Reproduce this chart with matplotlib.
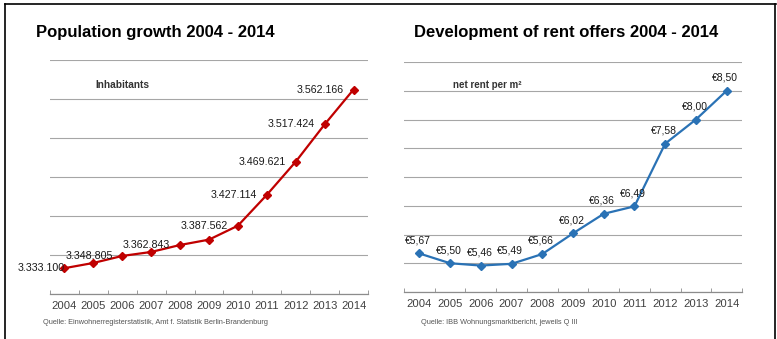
import matplotlib
matplotlib.use('Agg')
import matplotlib.pyplot as plt
from matplotlib.lines import Line2D
from matplotlib.ticker import MultipleLocator, FixedLocator

plt.rcParams['font.family'] = ['Liberation Sans', 'DejaVu Sans']

# Daten
years = ['2004', '2005', '2006', '2007', '2008', '2009',
         '2010', '2011', '2012', '2013', '2014']
population = [3333100, 3339800, 3348805, 3353900, 3362843, 3369700,
              3387562, 3427114, 3469621, 3517424, 3562166]
pop_labels = ['3.333.100', None, '3.348.805', None, '3.362.843', None,
              '3.387.562', '3.427.114', '3.469.621', '3.517.424', '3.562.166']
rent = [5.67, 5.50, 5.46, 5.49, 5.66, 6.02, 6.36, 6.49, 7.58, 8.00, 8.50]
rent_labels = ['€5,67', '€5,50', '€5,46', '€5,49', '€5,66', '€6,02',
               '€6,36', '€6,49', '€7,58', '€8,00', '€8,50']

W, H = 777, 339
fig = plt.figure(figsize=(W / 100, H / 100), dpi=100)


def px_axes(x0, y0, x1, y1):
    # Achsen in Pixelkoordinaten (oben links = 0,0)
    return fig.add_axes([x0 / W, 1 - y1 / H, (x1 - x0) / W, (y1 - y0) / H])


def style_axes(ax):
    for s in ['top', 'left', 'right']:
        ax.spines[s].set_visible(False)
    ax.spines['bottom'].set_color('#8c8c8c')
    ax.spines['bottom'].set_linewidth(0.9)
    ax.set_xlim(-0.5, len(years) - 0.5)
    ax.set_xticks(range(len(years)))
    ax.set_xticklabels(years)
    ax.xaxis.set_minor_locator(FixedLocator([i - 0.5 for i in range(len(years) + 1)]))
    ax.tick_params(axis='x', which='major', length=0, pad=5, labelsize=8.1,
                   labelcolor='#404040')
    ax.tick_params(axis='x', which='minor', length=3, direction='in',
                   color='#8c8c8c')
    ax.tick_params(axis='y', length=0, labelleft=False)
    ax.grid(axis='y', color='#a6a6a6', linewidth=0.8)
    ax.set_axisbelow(True)


x = list(range(len(years)))

# Bevölkerung
ax1 = px_axes(50, 60, 368, 294)
style_axes(ax1)
ax1.set_ylim(3300000, 3600000)
ax1.yaxis.set_major_locator(MultipleLocator(50000))
ax1.plot(x, population, color='#c00000', linewidth=1.6, marker='D',
         markersize=3.8, clip_on=False)
for i, lab in enumerate(pop_labels):
    if lab is None:
        continue
    dx = 0 if i == 0 else -7
    ax1.annotate(lab, (i, population[i]), xytext=(dx, 0), textcoords='offset points',
                 ha='right', va='center', fontsize=7.7, color='#1a1a1a')
ax1.text(95 / W, 1 - 85 / H, 'Inhabitants', transform=fig.transFigure,
         fontsize=7.3, fontweight='bold', color='#333333', va='center')
fig.text(36 / W, 1 - 32 / H, 'Population growth 2004 - 2014', fontsize=12,
         fontweight='bold', va='center')
fig.text(43 / W, 1 - 322 / H,
         'Quelle: Einwohnerregisterstatistik, Amt f. Statistik Berlin-Brandenburg',
         fontsize=5.3, color='#555555', va='center')

# Mieten
ax2 = px_axes(404, 62, 742, 292)
style_axes(ax2)
ax2.set_ylim(5.0, 9.0)
ax2.yaxis.set_major_locator(MultipleLocator(0.5))
ax2.plot(x, rent, color='#2a72b5', linewidth=1.6, marker='D',
         markersize=3.8, clip_on=False)
for i, lab in enumerate(rent_labels):
    ax2.annotate(lab, (i, rent[i]), xytext=(-1, 9.5), textcoords='offset points',
                 ha='center', va='center', fontsize=7.5, color='#1a1a1a')
fig.text(453 / W, 1 - 85 / H, 'net rent per m²', fontsize=7.0,
         fontweight='bold', color='#333333', va='center')
fig.text(414 / W, 1 - 33 / H, 'Development of rent offers 2004 - 2014',
         fontsize=12, fontweight='bold', va='center')
fig.text(421 / W, 1 - 322 / H,
         'Quelle: IBB Wohnungsmarktbericht, jeweils Q III',
         fontsize=5.3, color='#555555', va='center')

# Rahmen
for xs, ys in [([5, 776], [4, 4]), ([5, 5], [4, 339]), ([775, 775], [4, 339])]:
    fig.add_artist(Line2D([v / W for v in xs], [1 - v / H for v in ys],
                          color='black', linewidth=1.2, transform=fig.transFigure))

fig.savefig('out.png', dpi=100)
